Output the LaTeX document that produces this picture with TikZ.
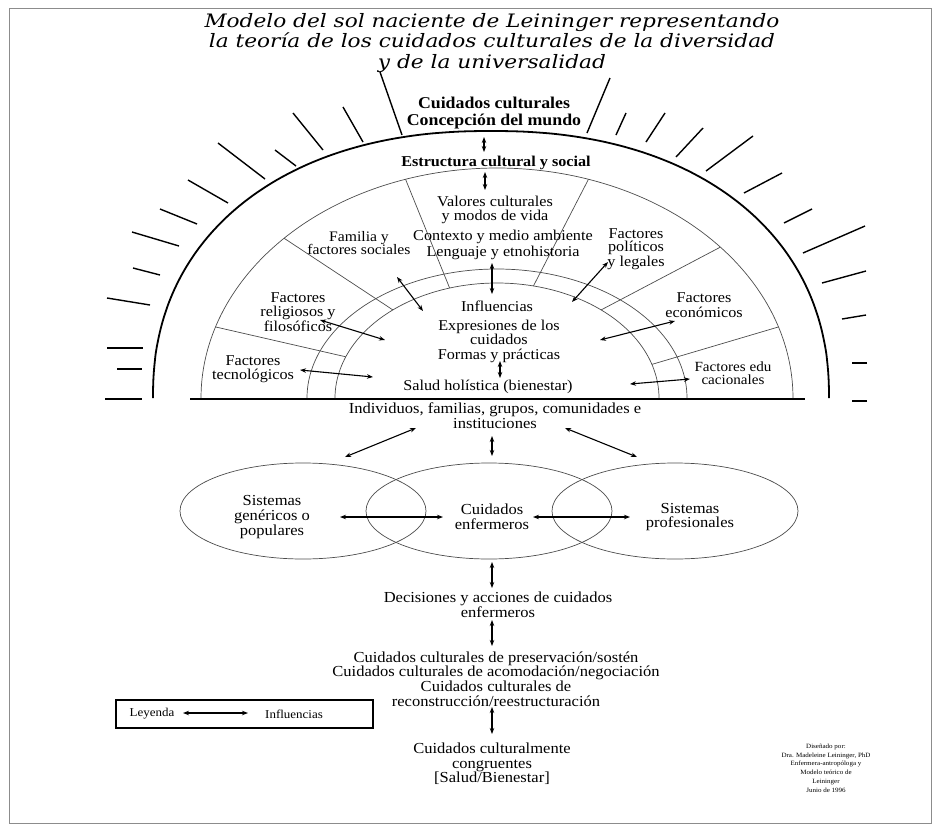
\documentclass[tikz,border=0pt]{standalone}
\usepackage{fontspec}
\setmainfont[FakeStretch=1.08]{Liberation Serif}
\newfontfamily\titlefont[FakeStretch=1.17]{DejaVu Serif}
\usetikzlibrary{arrows.meta}
\begin{document}
\begin{tikzpicture}[x=1pt,y=-1pt,
  txt/.style={font=\fontsize{15}{14.5}\selectfont, align=center, inner sep=0pt},
  btxt/.style={font=\fontsize{15}{17}\selectfont\bfseries, align=center, inner sep=0pt},
  ltxt/.style={font=\fontsize{15.3}{14.7}\selectfont, align=center, inner sep=0pt},
  dbl/.style={{Stealth[length=6pt,width=4.5pt]}-{Stealth[length=6pt,width=4.5pt]}, line width=1.1pt},
  ray/.style={line width=1.4pt},
  thinline/.style={line width=0.7pt, black!70},
]
\useasboundingbox (0,0) rectangle (935,828);
\draw[black!45, line width=1pt] (9,8) rectangle (931,823);

% title
\node[font=\titlefont\itshape\fontsize{18.5}{20.5}\selectfont, align=center, inner sep=0pt] (title) at (492,43)
  {Modelo del sol naciente de Leininger representando\\la teoría de los cuidados culturales de la diversidad\\y de la universalidad};

% outer thick arc
\draw[line width=1.8pt] plot[domain=0:180, samples=120, smooth]
  ({491+338*sign(cos(\x))*pow(abs(cos(\x)),0.9)}, {398-267*pow(abs(sin(\x)),0.9)});
% baseline
\coordinate (bl) at (190,399);
\coordinate (br) at (805,399);
\draw[line width=1.6pt] (bl) -- (br);

% inner arcs
\draw[thinline] plot[domain=0:180, samples=90, smooth] ({497+296*cos(\x)}, {398-230*sin(\x)});
\draw[thinline] plot[domain=0:180, samples=90, smooth] ({497+190*cos(\x)}, {398-129*sin(\x)});
\draw[thinline] plot[domain=0:180, samples=90, smooth] ({497+162*cos(\x)}, {398-115*sin(\x)});

% dividers
\foreach \n/\ta/\tb in {L1/108/107, L2/136/130, L3/162/159, R1/72/77, R2/41/50, R3/18/17} {
  \coordinate (\n-o) at ({497+296*cos(\ta)}, {398-230*sin(\ta)});
  \coordinate (\n-i) at ({497+162*cos(\tb)}, {398-115*sin(\tb)});
  \draw[thinline] (\n-o) -- (\n-i);
}

% rays
\foreach \xa/\ya/\xb/\yb in {380/72/402/135, 343/107/363/142, 293/113/323/150, 275/150/296/166,
  218/143/265/179, 188/180/228/203, 160/209/197/224, 132/232/179/246, 133/268/160/275,
  107/298/150/305, 107/348/143/348, 117/369/142/369, 105/399/142/399,
  610/78/587/133, 626/113/616/135, 665/113/646/142, 703/128/676/157, 753/136/706/171,
  782/173/744/193, 812/209/784/223, 865/226/803/253, 866/271/822/283, 866/315/842/319,
  867/363/852/363, 867/401/852/401} {
  \draw[ray] (\xa,\ya) -- (\xb,\yb);
}

% central texts
\node[btxt, font=\fontsize{16.5}{17}\selectfont\bfseries] (cc) at (494,113) {Cuidados culturales\\Concepción del mundo};
\node[btxt] (ecs) at (496,163) {Estructura cultural y social};
\node[txt] (val) at (495,210) {Valores culturales\\y modos de vida};
\node[txt, font=\fontsize{15}{16}\selectfont] (ctx) at (503,245) {Contexto y medio ambiente\\Lenguaje y etnohistoria};
\node[txt] (inf) at (497,306) {Influencias};
\node[txt] (exp) at (499,341) {Expresiones de los\\cuidados\\Formas y prácticas};
\node[txt] (sal) at (488,387) {Salud holística (bienestar)};
\node[txt, font=\fontsize{15.3}{15}\selectfont] (ind) at (495,416) {Individuos, familias, grupos, comunidades e\\instituciones};

% sector texts
\node[txt, font=\fontsize{14.5}{13.5}\selectfont] (fam) at (359,243) {Familia y\\factores sociales};
\node[txt] (rel) at (298,312) {Factores\\religiosos y\\filosóficos};
\node[txt] (tec) at (253,369) {Factores\\tecnológicos};
\node[txt, font=\fontsize{15}{13.5}\selectfont] (pol) at (636,249) {Factores\\políticos\\y legales};
\node[txt] (eco) at (704,305) {Factores\\económicos};
\node[txt, font=\fontsize{14}{13}\selectfont] (edu) at (733,373) {Factores edu\\cacionales};

% ellipses
\draw[thinline] (303,511) ellipse [x radius=123, y radius=48];
\draw[thinline] (489,511) ellipse [x radius=123, y radius=48];
\draw[thinline] (675,511) ellipse [x radius=123, y radius=48];
\node[ltxt] (gen) at (272,517) {Sistemas\\genéricos o\\populares};
\node[ltxt] (enf) at (492,517) {Cuidados\\enfermeros};
\node[ltxt] (pro) at (690,517) {Sistemas\\profesionales};

% lower texts
\node[ltxt] (dec) at (498,605) {Decisiones y acciones de cuidados\\enfermeros};
\node[ltxt] (cul) at (496,679) {Cuidados culturales de preservación/sostén\\Cuidados culturales de acomodación/negociación\\Cuidados culturales de\\reconstrucción/reestructuración};
\node[ltxt] (cong) at (492,764) {Cuidados culturalmente\\congruentes\\{[Salud/Bienestar]}};

% legend
\node[draw, line width=1.2pt, minimum width=257pt, minimum height=28pt, inner sep=0pt] (legbox) at (244.5,714) {};
\node[txt, font=\fontsize{12}{12}\selectfont] (leg) at (152,714) {Leyenda};
\node[txt, font=\fontsize{12}{12}\selectfont] (legi) at (294,714) {Influencias};

% credits
\node[txt, font=\fontsize{6.5}{8.8}\selectfont] (cred) at (826,768) {Diseñado por:\\Dra. Madeleine Leininger, PhD\\Enfermera-antropóloga y\\Modelo teórico de\\Leininger\\Junio de 1996};

% arrows
\foreach \n/\xa/\ya/\xb/\yb in {a1/484/137/484/152, a2/485/172/485/190, a3/492/263/492/294,
  a4/500/361/500/378, a5/492/436/492/456, a6/492/562/492/588, a7/492/620/492/646,
  a8/492/707/492/734, fama/397/277/423/311, rela/320/320/385/340, teca/300/370/373/377,
  pola/608/262/572/302, ecoa/675/321/600/340, edua/690/379/630/384,
  indl/416/428/345/457, indr/565/428/637/457, ell/340/517/443/517, elr/533/517/630/517,
  lega/183/713/248/713} {
  \coordinate (\n-s) at (\xa,\ya);
  \coordinate (\n-e) at (\xb,\yb);
  \draw[dbl] (\n-s) -- (\n-e);
}
\end{tikzpicture}
\end{document}
